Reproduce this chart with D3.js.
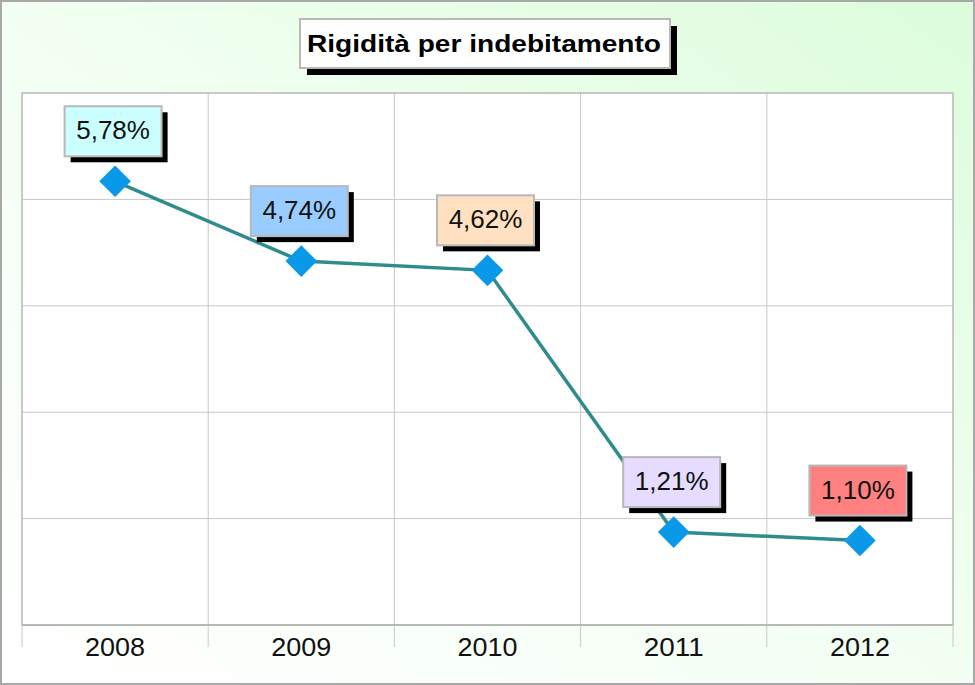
<!DOCTYPE html>
<html><head><meta charset="utf-8">
<script src="https://cdn.jsdelivr.net/npm/d3@7"></script>
<style>html,body{margin:0;padding:0;background:#fff;}svg{display:block;}</style>
</head><body>
<script>
const years = ["2008","2009","2010","2011","2012"];
const values = [5.78, 4.74, 4.62, 1.21, 1.10];
const valueLabels = ["5,78%","4,74%","4,62%","1,21%","1,10%"];
const labelColors = ["#ccffff","#99ccff","#ffe0c0","#e6dcff","#ff8080"];
const yMax = 6.93;
const yTicks = [0, 1.386, 2.772, 4.158, 5.544, 6.93];
const title = "Rigidità per indebitamento";

const W = 975, H = 685;
const svg = d3.select("body").append("svg").attr("width", W).attr("height", H);
const defs = svg.append("defs");
const grad = defs.append("linearGradient").attr("id","bg").attr("x1","0").attr("y1","1").attr("x2","1").attr("y2","0");
grad.append("stop").attr("offset","0").attr("stop-color","#ffffff");
grad.append("stop").attr("offset","0.45").attr("stop-color","#f4fff4");
grad.append("stop").attr("offset","1").attr("stop-color","#dcfcdc");
svg.append("rect").attr("x",1).attr("y",1).attr("width",W-2).attr("height",H-2)
  .attr("fill","url(#bg)").attr("stroke","#a8a8a8").attr("stroke-width",2);

const x = d3.scaleBand().domain(years).range([22, 953]);
const y = d3.scaleLinear().domain([0, yMax]).range([625, 93]);

svg.append("rect").attr("x",22).attr("y",93).attr("width",931).attr("height",532).attr("fill","#fff");
svg.append("g").selectAll("line").data(yTicks).join("line")
  .attr("x1",22).attr("x2",953).attr("y1",d=>y(d)).attr("y2",d=>y(d))
  .attr("stroke","#c8c8c8").attr("stroke-width",1);
const bounds = years.map(d=>x(d)).concat([x(years[years.length-1]) + x.bandwidth()]);
svg.append("g").selectAll("line").data(bounds).join("line")
  .attr("x1",d=>d).attr("x2",d=>d).attr("y1",93).attr("y2",647)
  .attr("stroke","#c8c8c8").attr("stroke-width",1);
svg.append("rect").attr("x",22).attr("y",93).attr("width",931).attr("height",532)
  .attr("fill","none").attr("stroke","#c0c0c0").attr("stroke-width",1.5);
svg.append("line").attr("x1",22).attr("x2",953).attr("y1",625).attr("y2",625).attr("stroke","#b8b8b8").attr("stroke-width",2);

svg.append("g").selectAll("text").data(years).join("text")
  .attr("x",d=>x(d)+x.bandwidth()/2).attr("y",656)
  .attr("text-anchor","middle").attr("font-family","Liberation Sans, Arial, sans-serif")
  .attr("font-size",26).attr("fill","#111")
  .attr("textLength",60).attr("lengthAdjust","spacingAndGlyphs").text(d=>d);

const cx = (d,i)=>x(years[i])+x.bandwidth()/2;
const line = d3.line().x((d,i)=>cx(d,i)).y(d=>y(d));
svg.append("path").datum(values).attr("d",line).attr("fill","none")
  .attr("stroke","#2e8c8c").attr("stroke-width",3.5);
svg.append("g").selectAll("path").data(values).join("path")
  .attr("d", d3.symbol().type(d3.symbolSquare).size(500))
  .attr("transform",(d,i)=>`translate(${cx(d,i)},${y(d)}) rotate(45)`)
  .attr("fill","#0a98e8");

const bw = 97, bh = 50;
const lg = svg.append("g").selectAll("g").data(values).join("g")
  .attr("transform",(d,i)=>`translate(${cx(d,i)-2-bw/2},${y(d)-25-bh})`);
lg.append("rect").attr("x",6).attr("y",6).attr("width",bw).attr("height",bh).attr("fill","#000");
lg.append("rect").attr("x",0).attr("y",0).attr("width",bw).attr("height",bh)
  .attr("fill",(d,i)=>labelColors[i]).attr("stroke","#b8b8b8").attr("stroke-width",2);
lg.append("text").attr("x",bw/2).attr("y",33).attr("text-anchor","middle")
  .attr("font-family","Liberation Sans, Arial, sans-serif").attr("font-size",26)
  .attr("fill","#111").text((d,i)=>valueLabels[i]);

const tg = svg.append("g").attr("transform","translate(300,19)");
tg.append("rect").attr("x",7).attr("y",7).attr("width",370).attr("height",49).attr("fill","#000");
tg.append("rect").attr("x",0).attr("y",0).attr("width",370).attr("height",49)
  .attr("fill","#fff").attr("stroke","#b8b8b8").attr("stroke-width",2);
tg.append("text").attr("x",7).attr("y",33).attr("font-family","Liberation Sans, Arial, sans-serif")
  .attr("font-weight","bold").attr("font-size",24).attr("fill","#000")
  .attr("textLength",354).attr("lengthAdjust","spacingAndGlyphs").text(title);
</script>
</body></html>
